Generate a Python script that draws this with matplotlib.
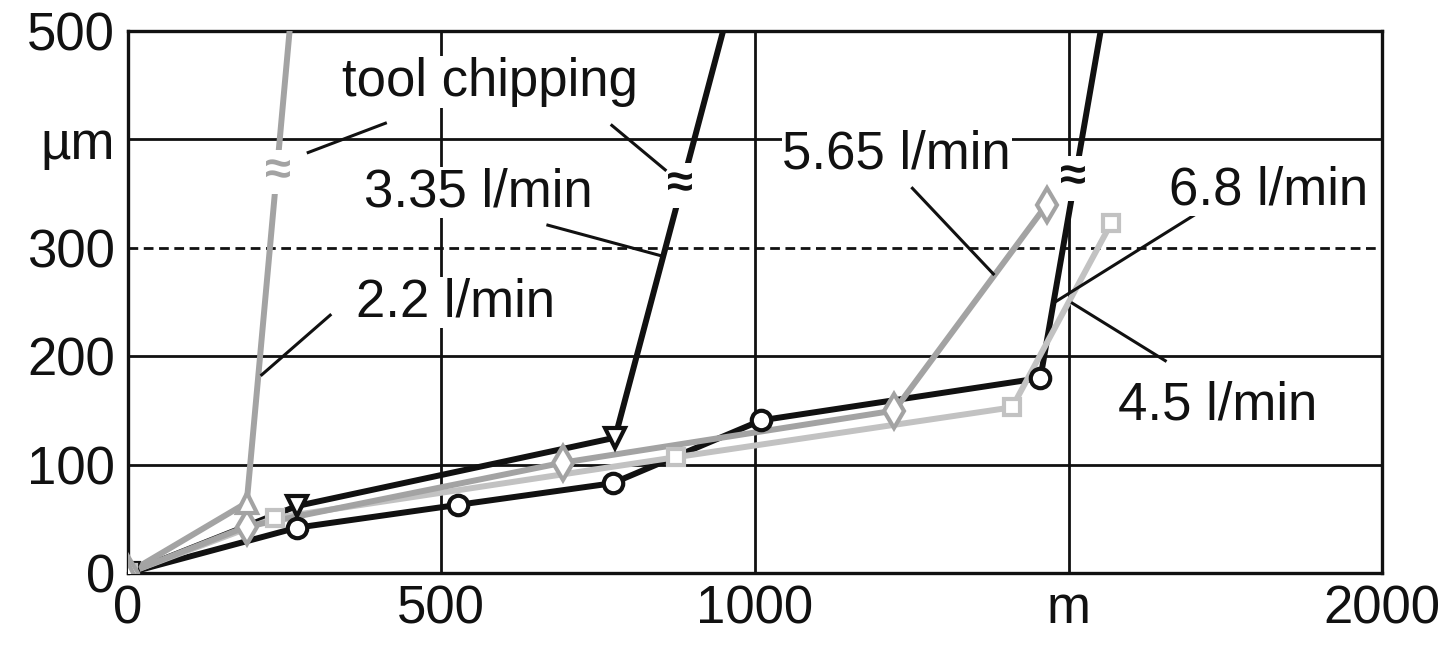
import matplotlib
matplotlib.use('Agg')
from matplotlib import pyplot as plt

plt.rcParams['font.family'] = ['Liberation Sans', 'DejaVu Sans']

# wear vs. cutting length for different coolant flow rates
# measured points (hollow markers) + one point past the top where the tool chipped
x22 = [0, 190, 205]
y22 = [0, 65, 160]
x22_brk, y22_brk = 263, 530

x335 = [0, 270, 777]
y335 = [0, 62, 125]
x335_brk, y335_brk = 963, 530

x45 = [0, 235, 874, 1410, 1568]
y45 = [0, 51, 107, 153, 323]

x565 = [0, 190, 694, 1222, 1465]
y565 = [0, 43, 102, 150, 340]

x68 = [0, 270, 526, 773, 1010, 1455]
y68 = [0, 42, 63, 83, 141, 180]
x68_brk, y68_brk = 1560, 530

xticks = [0, 500, 1000, 1500, 2000]
xlabels = ['0', '500', '1000', 'm', '2000']
yticks = [0, 100, 200, 300, 400, 500]
ylabels = ['0', '100', '200', '300', 'µm', '500']

BLACK = '#111111'
GRAY = '#a3a3a3'
LGRAY = '#c2c2c2'
FS = 38

fig = plt.figure(figsize=(14.49, 6.47), dpi=100)
ax = fig.add_axes([0.088, 0.114, 0.866, 0.838])
ax.set_xlim(0, 2000)
ax.set_ylim(0, 500)

for v in xticks[1:-1]:
    ax.axvline(v, color=BLACK, lw=2.0, zorder=1)
for v in yticks[1:-1]:
    ax.axhline(v, color=BLACK, lw=2.0, zorder=1, ls=(0, (3.5, 2)) if v == 300 else '-')

lw = 4.3
mew = 3.0

def series(x, y, col, mk, brk=None, msz=14, n=None):
    xs, ys = list(x), list(y)
    if brk:
        xs.append(brk[0]); ys.append(brk[1])
    ax.plot(xs, ys, color=col, lw=lw, zorder=3, solid_joinstyle='miter')
    n = n or len(x)
    ax.plot(x[:n], y[:n], ls='none', marker=mk, ms=msz, mfc='white', mec=col, mew=mew, zorder=4)

series(x68, y68, BLACK, 'o', (x68_brk, y68_brk), msz=14)
series(x335, y335, BLACK, 'v', (x335_brk, y335_brk), msz=15)
series(x45, y45, LGRAY, 's', msz=12)
series(x565, y565, GRAY, 'd', msz=17)
series(x22, y22, GRAY, '^', (x22_brk, y22_brk), msz=15, n=2)

# break marks
brk_txt = dict(ha='center', va='center', fontsize=34, fontweight='bold', zorder=5,
               bbox=dict(fc='white', ec='none', pad=0.3))
ax.text(240, 370, '≈', color=GRAY, **brk_txt)
ax.text(881, 358, '≈', color=BLACK, **brk_txt)
ax.text(1507, 364, '≈', color=BLACK, **brk_txt)

# labels and leader lines
lab = dict(ha='center', va='center', fontsize=FS, color=BLACK, zorder=6,
           bbox=dict(fc='white', ec='none', pad=0.5))
ax.text(578, 453, 'tool chipping', **lab)
ax.text(559, 351, '3.35 l/min', **lab)
ax.text(522, 250, '2.2 l/min', **lab)
ax.text(1226, 386, '5.65 l/min', **lab)
ax.text(1818, 353, '6.8 l/min', **lab)
ax.text(1738, 155, '4.5 l/min', **lab)

leaders = [
    ((288, 411), (388, 415)),
    ((772, 857), (413, 372)),
    ((670, 849), (321, 293)),
    ((323, 214), (238, 183)),
    ((1251, 1380), (355, 276)),
    ((1705, 1478), (332, 250)),
    ((1654, 1506), (196, 249)),
]
for lx, ly in leaders:
    ax.plot(lx, ly, color=BLACK, lw=2.2, zorder=5)

ax.set_xticks(xticks)
ax.set_xticklabels(xlabels)
ax.set_yticks(yticks)
ax.set_yticklabels(ylabels)
ax.tick_params(length=0, labelsize=FS, colors=BLACK)
ax.tick_params(axis='y', pad=9)
ax.tick_params(axis='x', pad=8)
for s in ax.spines.values():
    s.set_linewidth(2.4)
    s.set_color(BLACK)

fig.savefig('out.png', dpi=100)
